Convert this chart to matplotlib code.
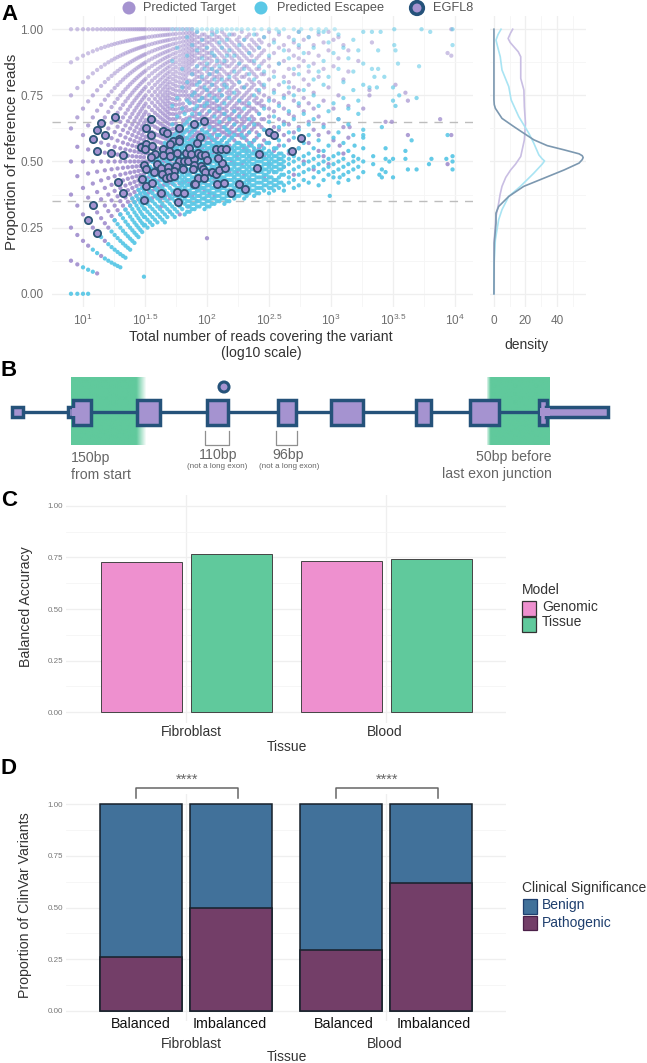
import matplotlib
matplotlib.use("Agg")
import matplotlib.pyplot as plt
import numpy as np
from matplotlib.patches import Rectangle, Circle

plt.rcParams['font.family'] = ['Liberation Sans', 'DejaVu Sans']
plt.rcParams['mathtext.default'] = 'regular'

# panel A, low read depth: reference read counts at each depth
target_fan_reads = [8, 9, 10, 11, 12, 13, 14, 15, 16, 17, 18, 19, 20, 21, 22, 23, 24, 25, 26, 27, 28, 29, 30, 31]
target_fan_refs = [
    [1, 2, 3, 4, 5, 6, 7, 8],
    [1, 2, 3, 4, 5, 6, 7, 8, 9],
    [2, 3, 4, 5, 6, 7, 8, 9, 10],
    [2, 3, 4, 5, 6, 7, 8, 9, 10, 11],
    [3, 4, 5, 6, 7, 8, 9, 10, 11, 12],
    [1, 3, 4, 5, 6, 7, 8, 9, 10, 11, 12, 13],
    [2, 4, 5, 6, 7, 8, 9, 10, 11, 12, 13, 14],
    [3, 4, 5, 6, 7, 8, 9, 10, 11, 12, 13, 14, 15],
    [4, 5, 6, 7, 8, 9, 10, 11, 12, 13, 14, 15, 16],
    [5, 6, 7, 8, 9, 10, 11, 12, 13, 14, 15, 16, 17],
    [5, 6, 7, 8, 9, 10, 11, 12, 13, 14, 15, 16, 17, 18],
    [6, 7, 8, 9, 10, 11, 12, 13, 14, 15, 16, 17, 18, 19],
    [6, 7, 8, 9, 10, 11, 12, 13, 14, 15, 16, 17, 18, 19, 20],
    [7, 8, 9, 10, 11, 12, 13, 14, 15, 16, 17, 18, 19, 20, 21],
    [7, 8, 9, 10, 11, 12, 13, 14, 15, 16, 17, 18, 19, 20, 21, 22],
    [8, 9, 10, 11, 12, 13, 14, 15, 16, 17, 18, 19, 20, 21, 22, 23],
    [8, 9, 10, 11, 12, 13, 14, 15, 16, 17, 18, 19, 20, 21, 22, 23, 24],
    [9, 10, 11, 12, 13, 14, 15, 16, 17, 18, 19, 20, 21, 22, 23, 24, 25],
    [9, 10, 11, 12, 13, 14, 15, 16, 17, 18, 19, 20, 21, 22, 23, 24, 25, 26],
    [10, 11, 12, 13, 14, 15, 16, 17, 18, 19, 20, 21, 22, 23, 24, 25, 26, 27],
    [10, 11, 12, 13, 14, 15, 16, 17, 18, 19, 20, 21, 22, 23, 24, 25, 26, 27, 28],
    [11, 12, 13, 14, 15, 16, 17, 18, 19, 20, 21, 22, 23, 24, 25, 26, 27, 28, 29],
    [11, 12, 13, 14, 15, 16, 17, 18, 19, 20, 21, 22, 23, 24, 25, 26, 27, 28, 29, 30],
    [12, 13, 14, 15, 16, 17, 18, 19, 20, 21, 22, 23, 24, 25, 26, 27, 28, 29, 30, 31],
]
target_mid_reads = [32, 34, 36, 38, 40, 42, 44, 46, 48, 50, 53, 56, 60, 64, 68, 72, 76]
target_mid_refs = [
    [12, 13, 14, 15, 16, 17, 18, 19, 20, 21, 22, 23, 24, 25, 26, 27, 28, 29, 30, 31, 32],
    [12, 13, 14, 15, 16, 17, 18, 19, 20, 21, 22, 23, 24, 25, 26, 27, 28, 29, 30, 31, 32, 33, 34],
    [13, 14, 15, 16, 17, 18, 19, 20, 21, 22, 23, 24, 25, 26, 27, 28, 29, 30, 31, 32, 33, 34, 35, 36],
    [14, 15, 16, 17, 18, 19, 20, 21, 22, 23, 24, 25, 26, 27, 28, 29, 30, 31, 32, 33, 34, 35, 36, 37, 38],
    [15, 16, 17, 18, 19, 20, 21, 22, 23, 24, 25, 26, 27, 28, 29, 30, 31, 32, 33, 34, 35, 36, 37, 38, 39, 40],
    [15, 17, 18, 19, 20, 21, 22, 23, 24, 25, 26, 27, 28, 29, 30, 31, 32, 33, 34, 35, 36, 37, 38, 39, 40, 41, 42],
    [16, 18, 19, 20, 21, 22, 23, 24, 25, 26, 27, 28, 29, 30, 31, 32, 33, 34, 35, 36, 37, 38, 39, 40, 41, 42, 43, 44],
    [17, 19, 20, 21, 22, 23, 24, 25, 26, 27, 28, 29, 30, 31, 32, 33, 34, 35, 36, 37, 38, 39, 40, 41, 42, 43, 44, 45, 46],
    [18, 20, 22, 23, 24, 25, 26, 27, 28, 29, 30, 31, 32, 33, 34, 35, 36, 37, 38, 39, 40, 41, 42, 43, 44, 45, 46, 47, 48],
    [18, 21, 23, 24, 25, 26, 27, 28, 29, 30, 31, 32, 33, 34, 35, 36, 37, 38, 39, 40, 41, 42, 43, 44, 45, 46, 47, 48, 49, 50],
    [20, 22, 24, 26, 27, 29, 30, 31, 32, 33, 34, 35, 36, 37, 38, 39, 40, 41, 42, 43, 44, 45, 46, 47, 48, 49, 50, 51, 52, 53],
    [21, 24, 26, 28, 30, 31, 32, 33, 34, 35, 36, 37, 38, 39, 40, 41, 42, 43, 44, 45, 46, 47, 48, 49, 50, 51, 52, 53, 54, 55, 56],
    [22, 25, 28, 30, 32, 34, 35, 36, 37, 38, 40, 41, 42, 43, 44, 45, 46, 47, 48, 49, 50, 51, 52, 53, 54, 55, 56, 57, 58, 59, 60],
    [24, 27, 30, 32, 34, 36, 38, 39, 41, 42, 44, 45, 46, 48, 49, 50, 51, 52, 53, 54, 55, 56, 57, 58, 59, 60, 61, 62, 63, 64],
    [26, 29, 32, 34, 36, 38, 40, 42, 44, 45, 47, 48, 50, 51, 52, 53, 54, 55, 56, 57, 58, 59, 60, 61, 62, 63, 64, 65, 66, 67, 68],
    [27, 30, 33, 36, 38, 40, 42, 44, 46, 48, 50, 52, 53, 54, 56, 57, 58, 60, 61, 62, 63, 64, 65, 66, 67, 68, 69, 70, 71, 72],
    [28, 32, 35, 38, 40, 43, 45, 47, 49, 51, 53, 55, 57, 58, 60, 61, 63, 64, 66, 67, 68, 69, 70, 71, 72, 73, 74, 75, 76],
]
target_cloud_logx = [1.90, 1.94, 1.98, 2.02, 2.06, 2.10, 2.14, 2.18, 2.22, 2.26, 2.30, 2.34, 2.38, 2.42, 2.46, 2.50,
                     2.54, 2.58, 2.62, 2.66, 2.70, 2.74, 2.78, 2.82, 2.86, 2.90, 2.94, 2.98, 3.02, 3.06, 3.10, 3.14]
target_cloud_pct = [
    [38, 41, 43, 46, 48, 51, 53, 56, 58, 60, 62, 65, 67, 69, 72, 74, 76, 79, 81, 83, 85, 88, 90, 92, 94, 96, 98],
    [37, 40, 44, 47, 49, 52, 55, 57, 59, 61, 64, 66, 68, 71, 73, 75, 78, 80, 82, 84, 87, 89, 91, 93, 95, 97],
    [36, 39, 42, 45, 48, 50, 54, 56, 58, 60, 63, 65, 67, 70, 72, 74, 77, 79, 81, 86, 88, 90, 92, 94, 96, 98],
    [38, 41, 46, 49, 52, 55, 57, 59, 62, 64, 66, 69, 71, 73, 76, 78, 80, 83, 85, 87, 89, 91, 95, 97],
    [37, 43, 47, 51, 54, 56, 58, 61, 63, 65, 68, 70, 72, 75, 77, 79, 82, 84, 86, 90, 93, 96, 98],
    [40, 45, 50, 53, 57, 60, 62, 64, 67, 69, 71, 74, 76, 81, 83, 85, 88, 91, 94, 97],
    [42, 48, 52, 55, 59, 61, 63, 66, 68, 70, 73, 78, 80, 84, 87, 89, 92, 95, 98],
    [39, 46, 51, 56, 60, 62, 65, 67, 72, 75, 77, 81, 83, 86, 90, 93, 96],
    [44, 49, 54, 58, 61, 64, 66, 69, 71, 74, 79, 82, 85, 88, 91, 94, 98],
    [41, 47, 53, 57, 60, 63, 68, 70, 73, 76, 80, 84, 87, 89, 92, 95, 97],
    [45, 50, 55, 59, 62, 65, 67, 72, 75, 78, 82, 86, 90, 93, 96],
    [43, 52, 56, 61, 64, 69, 71, 74, 77, 81, 85, 88, 91, 94, 98],
    [47, 54, 58, 63, 66, 70, 73, 79, 83, 87, 92, 95],
    [47, 55, 60, 64, 68, 72, 76, 80, 85, 90, 93, 96],
    [44, 52, 58, 62, 66, 71, 75, 78, 83, 88, 92, 97],
    [49, 57, 61, 67, 70, 74, 81, 86, 89, 94, 99],
    [46, 54, 59, 63, 69, 73, 77, 84, 91, 96],
    [51, 56, 62, 66, 72, 79, 87, 93, 98],
    [48, 60, 65, 70, 75, 82, 88, 94],
    [53, 58, 64, 68, 76, 80, 85, 92, 97],
    [45, 61, 67, 73, 78, 83, 90, 95],
    [55, 63, 71, 77, 86, 89, 93, 99],
    [50, 59, 69, 74, 81, 88, 96],
    [57, 65, 72, 79, 84, 91, 97],
    [47, 62, 70, 76, 87, 94],
    [54, 60, 67, 82, 90, 98],
    [52, 64, 73, 85, 95],
    [49, 61, 78, 92, 99],
    [58, 70, 86, 96],
    [66, 75, 89, 97],
    [53, 63, 81, 94],
    [71, 84, 92],
]
# second pass over the dense part of the purple cloud
target_fill_logx = [1.92, 1.96, 2.00, 2.04, 2.08, 2.12, 2.16, 2.20, 2.24, 2.28, 2.32, 2.36, 2.40, 2.44]
target_fill_pct = [
    [39, 42, 47, 50, 54, 57, 59, 61, 63, 66, 68, 70, 73, 75, 77, 80, 82, 84, 86, 89, 91, 93, 95, 97, 99],
    [40, 43, 49, 53, 55, 58, 60, 62, 65, 67, 69, 71, 74, 76, 78, 81, 83, 85, 87, 90, 92, 94, 96, 98],
    [41, 46, 51, 54, 57, 59, 61, 64, 66, 68, 71, 73, 75, 77, 80, 82, 84, 86, 89, 91, 93, 95, 97],
    [44, 48, 53, 56, 58, 60, 63, 65, 67, 70, 72, 74, 76, 79, 81, 83, 85, 88, 90, 92, 94, 96, 99],
    [46, 50, 55, 57, 59, 62, 64, 66, 69, 71, 73, 75, 78, 80, 82, 84, 87, 89, 92, 95, 97],
    [43, 52, 56, 58, 61, 63, 65, 68, 70, 72, 75, 77, 79, 82, 85, 87, 90, 93, 96, 99],
    [47, 53, 57, 60, 62, 64, 67, 69, 71, 74, 76, 79, 81, 83, 86, 88, 91, 94, 97],
    [50, 55, 59, 61, 63, 66, 68, 70, 73, 76, 78, 80, 84, 87, 89, 92, 95, 98],
    [46, 52, 57, 60, 62, 65, 67, 70, 72, 75, 77, 81, 83, 86, 90, 93, 96],
    [49, 56, 59, 61, 64, 66, 69, 72, 74, 78, 82, 85, 88, 91, 94, 99],
    [54, 58, 60, 63, 66, 68, 71, 73, 76, 79, 83, 86, 89, 92, 97],
    [51, 57, 62, 65, 67, 70, 75, 78, 80, 84, 88, 90, 93, 96],
    [48, 59, 61, 64, 69, 72, 74, 77, 82, 85, 89, 94, 98],
    [56, 63, 66, 71, 73, 79, 83, 87, 91, 95],
]
target_outer_logx = [3.94, 3.97, 3.97, 3.52, 3.60, 3.62, 3.88, 3.44, 3.49, 3.31, 3.31, 3.15, 3.97, 3.94, 3.14, 3.07, 3.62, 3.22, 3.26, 3.33]
target_outer_pct = [91, 90, 100, 79, 76, 73, 66, 65, 65, 77, 75, 63, 60, 49, 59, 56, 60, 88, 70, 95]
target_low_logx = [2.00, 1.63, 1.70, 1.78, 1.85, 1.92]
target_low_pct = [21, 33, 31, 30, 33, 35]

escapee_fan_reads = [8, 9, 10, 11, 12, 13, 14, 15, 16, 17, 18, 19, 20, 21, 22, 23, 24, 25, 26, 27, 28, 29, 30, 31]
escapee_fan_refs = [
    [0], [0], [0, 1], [0, 1], [1, 2], [2], [3], [2], [2, 3], [2, 3, 4], [2, 3, 4, 5], [2, 3, 4, 5],
    [2, 3, 4, 5, 6], [3, 4, 5, 6], [3, 4, 5, 6, 7], [4, 5, 6, 7], [4, 5, 6, 7, 8], [5, 6, 7, 8, 9],
    [5, 6, 7, 8, 9], [6, 7, 8, 9, 10], [6, 7, 8, 9, 10, 11], [7, 8, 9, 10, 11], [7, 8, 9, 10, 11, 12],
    [2, 8, 9, 10, 11, 12],
]
escapee_cloud_logx = [1.50, 1.54, 1.58, 1.62, 1.66, 1.70, 1.74, 1.78, 1.82, 1.86, 1.90, 1.94, 1.98, 2.02, 2.06, 2.10,
                      2.14, 2.18, 2.22, 2.26, 2.30, 2.34, 2.38, 2.42, 2.46, 2.50, 2.54, 2.58, 2.62, 2.66, 2.70, 2.74,
                      2.78, 2.82, 2.86, 2.90, 2.94, 2.98, 3.02, 3.06, 3.10, 3.14, 3.18, 3.22, 3.26]
escapee_cloud_pct = [
    [26, 29, 32, 35, 38, 41, 44, 47],
    [27, 30, 33, 36, 39, 42, 45, 48],
    [28, 31, 34, 37, 40, 43, 46, 49, 52],
    [29, 32, 35, 38, 41, 44, 47, 50, 53],
    [27, 30, 33, 36, 39, 42, 45, 48, 51, 54, 57],
    [31, 34, 37, 40, 43, 46, 49, 52, 55, 58],
    [29, 32, 35, 37, 39, 41, 43, 45, 47, 49, 51, 53, 55, 57, 60],
    [33, 36, 38, 40, 42, 44, 46, 48, 50, 52, 54, 56, 59, 62],
    [30, 34, 36, 38, 40, 42, 44, 46, 48, 50, 52, 54, 56, 58, 61, 64, 68],
    [31, 33, 35, 37, 39, 41, 43, 45, 47, 49, 51, 53, 55, 57, 60, 63, 66, 72],
    [32, 34, 36, 38, 40, 42, 44, 46, 48, 50, 52, 54, 56, 58, 62, 65, 70, 76],
    [33, 35, 37, 39, 41, 43, 45, 47, 49, 51, 53, 55, 57, 60, 64, 68, 73, 80],
    [32, 34, 36, 38, 40, 42, 44, 46, 48, 50, 52, 54, 56, 59, 61, 66, 71, 78, 85],
    [33, 35, 37, 39, 41, 43, 45, 47, 49, 51, 53, 55, 57, 60, 63, 69, 75, 83],
    [34, 36, 38, 40, 42, 44, 46, 48, 50, 52, 54, 56, 58, 62, 67, 74, 81, 90],
    [35, 37, 39, 41, 43, 45, 47, 49, 51, 53, 55, 57, 60, 65, 70, 77, 86, 95],
    [34, 36, 38, 40, 42, 44, 46, 48, 50, 52, 54, 56, 59, 63, 68, 72, 79, 88],
    [35, 37, 39, 41, 43, 45, 47, 49, 51, 53, 55, 58, 61, 66, 74, 82, 92, 98],
    [36, 38, 40, 42, 44, 46, 48, 50, 52, 54, 56, 60, 64, 69, 76, 84, 90],
    [37, 39, 41, 43, 45, 47, 49, 51, 53, 55, 57, 62, 67, 73, 80, 87, 94],
    [36, 38, 40, 42, 44, 46, 48, 50, 52, 54, 56, 59, 63, 70, 78, 85, 96],
    [38, 40, 42, 44, 46, 48, 50, 52, 54, 57, 61, 66, 72, 83, 91],
    [37, 39, 41, 43, 45, 47, 49, 51, 53, 55, 58, 64, 75, 81, 88, 98],
    [38, 40, 42, 44, 46, 48, 50, 52, 54, 56, 60, 68, 77, 86, 93],
    [39, 41, 43, 45, 47, 49, 51, 53, 55, 62, 70, 79, 84, 97],
    [38, 40, 42, 44, 46, 48, 50, 52, 54, 57, 65, 73, 90],
    [39, 41, 43, 46, 48, 50, 52, 55, 60, 67, 76, 82, 95],
    [40, 42, 44, 47, 49, 51, 53, 58, 63, 71, 87, 99],
    [39, 41, 45, 48, 50, 52, 56, 64, 74, 80, 92],
    [42, 44, 46, 49, 51, 54, 61, 69, 78, 89],
    [40, 43, 47, 50, 52, 59, 66, 75, 85, 96],
    [41, 45, 48, 51, 55, 62, 72, 83, 94, 99],
    [43, 46, 49, 52, 57, 68, 77, 91],
    [42, 47, 50, 53, 60, 64, 86, 97],
    [44, 48, 51, 55, 66, 75, 81, 93],
    [41, 46, 49, 52, 58, 71, 84, 99],
    [43, 47, 50, 54, 63, 79, 88, 99],
    [45, 48, 51, 56, 69, 82, 95],
    [44, 46, 49, 52, 59, 72, 91],
    [42, 47, 50, 53, 61, 66, 85, 98],
    [45, 48, 51, 57, 74, 80, 93],
    [43, 46, 49, 54, 64, 70, 89],
    [47, 50, 52, 60, 77, 84, 96],
    [44, 48, 51, 68, 73, 92],
    [46, 50, 55, 62, 79, 87, 99],
]
# second pass over the dense blue band
escapee_fill_logx = [1.52, 1.56, 1.60, 1.64, 1.68, 1.72, 1.76, 1.80, 1.84, 1.88, 1.92, 1.96, 2.00, 2.04, 2.08, 2.12, 2.16,
                     2.20, 2.24, 2.28, 2.32, 2.36, 2.40, 2.44, 2.48, 2.52, 2.56, 2.60]
escapee_fill_pct = [
    [25, 28, 31, 34, 37, 40, 43, 46],
    [26, 29, 32, 35, 38, 41, 44, 47, 50],
    [27, 30, 33, 36, 39, 42, 45, 48, 51],
    [28, 31, 34, 37, 40, 43, 46, 49, 52, 55],
    [29, 32, 35, 38, 41, 44, 47, 50, 53, 56],
    [30, 33, 36, 39, 42, 45, 48, 51, 54, 57, 59],
    [31, 34, 37, 40, 43, 46, 49, 52, 55, 58, 61],
    [32, 35, 37, 39, 41, 43, 45, 47, 49, 51, 53, 55, 57, 60, 63],
    [31, 33, 35, 37, 39, 41, 43, 45, 47, 49, 51, 53, 55, 57, 59, 62, 65],
    [32, 34, 36, 38, 40, 42, 44, 46, 48, 50, 52, 54, 56, 58, 61, 64],
    [33, 35, 37, 39, 41, 43, 45, 47, 49, 51, 53, 55, 57, 59, 63],
    [34, 36, 38, 40, 42, 44, 46, 48, 50, 52, 54, 56, 58, 62],
    [33, 35, 37, 39, 41, 43, 45, 47, 49, 51, 53, 55, 57, 61],
    [34, 36, 38, 40, 42, 44, 46, 48, 50, 52, 54, 56, 59],
    [35, 37, 39, 41, 43, 45, 47, 49, 51, 53, 55, 57, 60],
    [36, 38, 40, 42, 44, 46, 48, 50, 52, 54, 56, 58],
    [35, 37, 39, 41, 43, 45, 47, 49, 51, 53, 55, 57, 62],
    [37, 39, 41, 43, 45, 47, 49, 51, 53, 55, 59],
    [37, 39, 41, 43, 45, 47, 49, 51, 53, 55, 57],
    [38, 40, 42, 44, 46, 48, 50, 52, 54, 56, 60],
    [37, 39, 41, 43, 45, 47, 49, 51, 53, 55],
    [39, 41, 43, 45, 47, 49, 51, 53, 56],
    [38, 40, 42, 44, 46, 48, 50, 52, 54],
    [40, 42, 44, 46, 48, 50, 52, 54],
    [41, 43, 45, 47, 49, 51, 53, 57],
    [40, 42, 44, 47, 49, 51, 53],
    [41, 43, 46, 48, 50, 52, 55],
    [42, 45, 47, 49, 51, 53],
]
escapee_upper_logx = [1.72, 1.76, 1.80, 1.84, 1.88, 1.92, 1.96, 2.00, 2.04, 2.08, 2.12, 2.16]
escapee_upper_pct = [
    [64, 71, 88], [67, 74, 93], [70, 78, 85], [73, 80, 90, 97], [68, 75, 83, 94], [71, 79, 86, 92, 99],
    [74, 82, 89, 96], [72, 77, 87, 93], [79, 85, 91, 98], [73, 84, 88, 99], [75, 81, 93], [78, 90, 96],
]
escapee_top_logx = [1.72, 1.76, 1.80, 1.84, 1.88, 1.92, 1.96, 2.00, 2.04, 2.08, 2.12, 2.16, 2.20, 2.24, 2.28, 2.33, 2.38, 2.44,
                    2.50, 2.56, 2.62, 2.70, 2.76, 2.84, 2.90, 2.96, 3.03]
escapee_outer_logx = [3.73, 3.80, 3.98, 3.98, 3.54, 3.71, 3.33, 3.40, 3.51, 3.51, 3.52, 3.38, 3.33, 3.38, 3.35, 3.43, 3.50, 3.55,
                      3.69, 3.50, 3.52, 3.37, 3.31, 3.94, 3.65, 3.44, 3.60, 3.98, 3.93, 3.98, 3.81, 3.79, 3.98, 3.69, 3.62, 3.60,
                      3.50, 3.47, 3.44, 3.41, 3.44, 3.39, 3.50, 3.41, 3.07, 2.99, 3.41, 3.34, 3.34, 3.26, 3.26, 3.19]
escapee_outer_pct = [100, 99, 100, 94, 87, 86, 99, 99, 100, 94, 92, 92, 85, 85, 82, 82, 78, 75,
                     74, 73, 71, 78, 78, 60, 58, 55, 54, 52, 51, 50, 51, 49, 47, 47, 47, 51,
                     51, 50, 51, 47, 46, 45, 44, 44, 44, 37, 63, 52, 49, 60, 59, 56]

egfl8_logx = [1.256, 1.145, 1.113, 1.175, 1.078, 1.113, 1.229, 1.323, 1.280, 1.323, 1.078, 1.038, 1.113, 1.546, 1.506, 1.549,
              1.772, 1.893, 1.979, 1.648, 1.680, 1.946, 1.919, 1.777, 1.729, 1.772, 1.702, 1.465, 1.508, 1.559, 1.497, 1.648,
              1.696, 1.756, 1.648, 1.702, 1.583, 1.546, 1.495, 1.508, 1.594, 1.629, 1.683, 1.777, 1.815, 1.844, 1.893, 1.831,
              1.852, 1.868, 1.925, 1.952, 1.984, 1.997, 1.949, 1.895, 1.809, 1.750, 1.734, 1.683, 1.635, 1.573, 1.667, 1.702,
              1.734, 1.479, 1.506, 1.559, 1.629, 1.756, 1.817, 1.495, 1.764, 1.885, 1.971, 1.984, 2.038, 2.070, 2.097, 2.145,
              2.118, 2.092, 2.070, 2.113, 2.151, 2.419, 2.406, 2.686, 2.761, 2.503, 2.543, 1.930, 1.976, 1.895, 2.083, 2.137,
              2.258, 2.309, 2.194, 1.903]
egfl8_prop = [.669, .644, .618, .602, .586, .541, .532, .526, .423, .382, .335, .277, .230, .659, .626, .602,
              .628, .643, .654, .615, .606, .594, .570, .586, .576, .576, .565, .555, .565, .557, .548, .547,
              .541, .531, .524, .521, .528, .516, .485, .470, .489, .477, .480, .503, .502, .502, .508, .531,
              .552, .527, .531, .524, .524, .506, .484, .487, .470, .484, .465, .462, .453, .460, .436, .440,
              .445, .435, .407, .417, .382, .386, .380, .356, .346, .470, .470, .462, .460, .453, .468, .477,
              .493, .512, .546, .546, .548, .527, .475, .541, .587, .611, .601, .436, .436, .415, .414, .418,
              .414, .396, .380, .414]

# panel A side density curves
target_dens_y = [1.0, .985, .965, .95, .934, .915, .896, .858, .814, .77, .707, .645, .582, .519, .49, .468, .44, .406, .375, .343, .292, .204, .104, 0]
target_dens = [11.9, 10.5, 9, 10.3, 12.6, 15.4, 17, 17, 17, 19, 19.3, 20, 19.3, 17, 13.7, 10.6, 7.5, 5.1, 3.9, 3, 1.3, .2, 0, 0]
escapee_dens_y = [1.0, .98, .959, .93, .896, .846, .783, .733, .67, .607, .569, .525, .51, .502, .49, .456, .406, .368, .318, .28, .204, .104, 0]
escapee_dens = [4.5, 2.6, 1.3, 2.5, 4, 5.1, 9.4, 10.9, 15.7, 22.1, 25.3, 28.5, 30.6, 32.1, 30.6, 25.3, 16.8, 9.4, 5.1, 3, .9, 0, 0]
egfl8_dens_y = [1.0, .733, .715, .701, .663, .632, .607, .582, .56, .544, .529, .522, .515, .507, .494, .468, .437, .406, .368, .33, .305, .267, .192, 0]
egfl8_dens = [0, 0, .2, .9, 5.1, 12.6, 18.9, 25.3, 33.8, 44.5, 54, 56, 56.6, 56, 54, 44.5, 31.7, 18.9, 9.4, 3, 1.3, 1.3, .2, 0]

# panel B gene model, in schematic units
exon_start = [66, 135, 205, 276, 329, 414, 468]
exon_end = [93, 162, 230, 298, 365, 433, 501]

# panel C
tissues = ['Fibroblast', 'Blood']
acc_genomic = [.727, .734]
acc_tissue = [.766, .744]

# panel D, share of pathogenic variants
path_balanced = [.26, .295]
path_imbalanced = [.50, .62]

PURPLE = '#A593D0'
BLUE = '#5BC8E6'
NAVY = '#25527A'
GREEN = '#60C99C'
PINK = '#EE90CF'
BENIGN = '#41719A'
PATHO = '#733E68'
GREY = '#6E6E6E'

W, H = 647, 1063
fig = plt.figure(figsize=(W / 100, H / 100), dpi=100)


def px_axes(left, top, right, bottom):
    return fig.add_axes([left / W, 1 - bottom / H, (right - left) / W, (bottom - top) / H])


def clean(ax):
    for s in ax.spines.values():
        s.set_visible(False)
    ax.tick_params(which='both', length=0)
    ax.grid(True, which='major', color='#EFEFEF', lw=.9)
    ax.grid(True, which='minor', color='#F5F5F5', lw=.6)
    ax.set_axisbelow(True)


def dots(ax, logx, prop, color):
    prop = np.array(prop, dtype=float)
    rgba = np.tile(matplotlib.colors.to_rgba(color), (len(prop), 1))
    rgba[:, 3] = np.interp(prop, [.55, .85], [.95, .55])
    ax.scatter(10 ** np.array(logx, dtype=float), prop, s=9.5, c=rgba, linewidths=0, zorder=3)


def from_counts(reads, refs):
    xs, ys = [], []
    for n, row in zip(reads, refs):
        for k in row:
            xs.append(np.log10(n))
            ys.append(k / n)
    return xs, ys


def from_columns(logx, pct):
    xs, ys = [], []
    for x, row in zip(logx, pct):
        for v in row:
            xs.append(x)
            ys.append(v / 100)
    return xs, ys


# panel A scatter
ax_a = px_axes(52, 16, 473, 307)
clean(ax_a)
ax_a.set_xscale('log')
ax_a.set_xlim(10 ** .75, 10 ** 4.145)
ax_a.set_ylim(-.05, 1.05)
for x, y in [from_counts(target_fan_reads, target_fan_refs), from_counts(target_mid_reads, target_mid_refs),
             from_columns(target_cloud_logx, target_cloud_pct), from_columns(target_fill_logx, target_fill_pct)]:
    dots(ax_a, x, y, PURPLE)
dots(ax_a, target_outer_logx, np.array(target_outer_pct) / 100, PURPLE)
dots(ax_a, target_low_logx, np.array(target_low_pct) / 100, PURPLE)
for x, y in [from_counts(escapee_fan_reads, escapee_fan_refs), from_columns(escapee_cloud_logx, escapee_cloud_pct),
             from_columns(escapee_fill_logx, escapee_fill_pct), from_columns(escapee_upper_logx, escapee_upper_pct)]:
    dots(ax_a, x, y, BLUE)
dots(ax_a, escapee_outer_logx, np.array(escapee_outer_pct) / 100, BLUE)
dots(ax_a, escapee_top_logx, np.ones(len(escapee_top_logx)), '#8FDCF0')
ax_a.scatter(10 ** np.array(egfl8_logx), egfl8_prop, s=27, facecolor=PURPLE, edgecolor='#2B5576', linewidths=1.3, zorder=4)
for y in [.65, .35]:
    ax_a.axhline(y, color='#BDBDBD', lw=1, dashes=(6, 5), zorder=2)
x_major = [1, 1.5, 2, 2.5, 3, 3.5, 4]
ax_a.set_xticks([10 ** v for v in x_major])
ax_a.set_xticklabels(['$10^{%g}$' % v for v in x_major], color=GREY, fontsize=8.5)
ax_a.set_xticks([10 ** v for v in [1.25, 1.75, 2.25, 2.75, 3.25, 3.75]], minor=True)
ax_a.set_xticklabels([], minor=True)
ax_a.set_yticks([0, .25, .5, .75, 1])
ax_a.set_yticklabels(['0.00', '0.25', '0.50', '0.75', '1.00'], color=GREY, fontsize=8.5)
ax_a.set_yticks([.125, .375, .625, .875], minor=True)
ax_a.tick_params(axis='x', pad=4)
ax_a.tick_params(axis='y', pad=6)

# density side panel
ax_d = px_axes(490, 16, 586, 307)
clean(ax_d)
ax_d.set_xlim(-2.5, 58.4)
ax_d.set_ylim(-.05, 1.05)
ax_d.plot(target_dens, target_dens_y, color='#C9BEE3', lw=1.2)
ax_d.plot(escapee_dens, escapee_dens_y, color='#A9E4F3', lw=1.2)
ax_d.plot(egfl8_dens, egfl8_dens_y, color='#7C98B0', lw=1.2)
ax_d.set_xticks([0, 20, 40])
ax_d.set_xticklabels(['0', '20', '40'], color=GREY, fontsize=8.5)
ax_d.set_xticks([10, 30, 50], minor=True)
ax_d.set_yticks([0, .25, .5, .75, 1])
ax_d.set_yticklabels([])
ax_d.set_yticks([.125, .375, .625, .875], minor=True)
ax_d.tick_params(axis='x', pad=6)

# panel C bars
ax_c = px_axes(66, 495.4, 506, 722.6)
clean(ax_c)
pos = np.array([1, 2])
ax_c.bar(pos - .225, acc_genomic, .405, color=PINK, edgecolor='#444444', lw=.7, zorder=3)
ax_c.bar(pos + .225, acc_tissue, .405, color=GREEN, edgecolor='#444444', lw=.7, zorder=3)
ax_c.set_xlim(.4, 2.6)
ax_c.set_ylim(-.05, 1.05)

# panel D bars
ax_e = px_axes(66, 794, 506, 1021)
clean(ax_e)
ax_e.bar(pos - .225, [1, 1], .41, color=BENIGN, edgecolor='#16202A', lw=1.1, zorder=3)
ax_e.bar(pos + .225, [1, 1], .41, color=BENIGN, edgecolor='#16202A', lw=1.1, zorder=3)
ax_e.bar(pos - .225, path_balanced, .41, color=PATHO, edgecolor='#16202A', lw=1.1, zorder=3)
ax_e.bar(pos + .225, path_imbalanced, .41, color=PATHO, edgecolor='#16202A', lw=1.1, zorder=3)
ax_e.set_xlim(.4, 2.6)
ax_e.set_ylim(-.05, 1.05)

for ax in (ax_c, ax_e):
    ax.set_xticks(pos)
    ax.set_xticklabels([])
    ax.set_yticks([0, .25, .5, .75, 1])
    ax.set_yticklabels(['0.00', '0.25', '0.50', '0.75', '1.00'], color='#777777', fontsize=5.8)
    ax.set_yticks([.125, .375, .625, .875], minor=True)
    ax.tick_params(axis='y', pad=2)

# overlay in figure pixels for legends, labels and the gene model
top = fig.add_axes([0, 0, 1, 1], zorder=10)
top.set_xlim(0, W)
top.set_ylim(H, 0)
top.axis('off')


def txt(x, y, s, size=10, color='#333333', ha='center', va='center', **kw):
    top.text(x, y, s, fontsize=size, color=color, ha=ha, va=va, **kw)


for x, y, s in [(1, 15, 'A'), (1, 370, 'B'), (1, 500, 'C'), (1, 769, 'D')]:
    txt(x, y, s, size=16, color='black', ha='left', fontweight='bold')

# top legend
top.add_patch(Circle((129, 8), 6.5, color=PURPLE, lw=0))
top.add_patch(Circle((261, 8), 6.5, color=BLUE, lw=0))
top.add_patch(Circle((417, 8), 6.3, facecolor=PURPLE, edgecolor=NAVY, lw=2.6))
txt(143, 8, 'Predicted Target', size=9.2, color='#555555', ha='left')
txt(277, 8, 'Predicted Escapee', size=9.2, color='#555555', ha='left')
txt(433, 8, 'EGFL8', size=9.2, color='#555555', ha='left')

txt(12, 152, 'Proportion of reference reads', size=10.9, rotation=90)
txt(261, 337, 'Total number of reads covering the variant', size=10.1)
txt(261, 353, '(log10 scale)', size=10.1)
txt(526, 345, 'density', size=10)


# panel B
def exon(x0, x1, y0, y1):
    top.add_patch(Rectangle((x0 + 1.7, y0 + 1.7), x1 - x0 - 3.4, y1 - y0 - 3.4, facecolor=PURPLE, edgecolor=NAVY, lw=2.5, zorder=4))


for x0, x1 in [(71, 147), (487, 550)]:
    fade = np.ones((1, 60, 4))
    fade[0, :, :3] = matplotlib.colors.to_rgb(GREEN)
    if x0 == 71:
        fade[0, :, 3] = np.interp(np.linspace(x0, x1, 60), [x1 - 10, x1], [1, 0])
    else:
        fade[0, :, 3] = np.interp(np.linspace(x0, x1, 60), [x0, x0 + 3], [.3, 1])
    top.imshow(fade, extent=(x0, x1, 445, 377), aspect='auto', zorder=1, interpolation='bilinear')
top.set_xlim(0, W)
top.set_ylim(H, 0)
top.plot([20, 560], [412, 412], color=NAVY, lw=2.4, zorder=3, solid_capstyle='butt')
exon(10, 25, 405, 419)
exon(66, 78, 405, 419)
for x0, x1 in zip(exon_start, exon_end):
    if x0 == 66:
        x0 = 71
    exon(x0, x1, 398, 427)
exon(537, 549, 398, 427)
exon(544, 610, 405, 419)
top.add_patch(Rectangle((540, 408), 10, 8, facecolor=PURPLE, edgecolor='none', zorder=5))
top.add_patch(Rectangle((72, 408), 6, 8, facecolor=PURPLE, edgecolor='none', zorder=5))
top.add_patch(Circle((224, 387), 5, facecolor=PURPLE, edgecolor=NAVY, lw=2.2, zorder=4))
for x0, x1 in [(205, 229), (276, 297)]:
    top.plot([x0, x0, x1, x1], [431, 445, 445, 431], color='#8F8F8F', lw=.9)
txt(71, 458, '150bp', size=10.2, color='#666666', ha='left')
txt(71, 475, 'from start', size=10.2, color='#666666', ha='left')
txt(218, 455, '110bp', size=10.2, color='#666666')
txt(288, 455, '96bp', size=10.2, color='#666666')
txt(217, 467, '(not a long exon)', size=5.8, color='#666666')
txt(289, 467, '(not a long exon)', size=5.8, color='#666666')
txt(552, 457, '50bp before', size=10.2, color='#666666', ha='right')
txt(552, 474, 'last exon junction', size=10.2, color='#666666', ha='right')

# panel C text
txt(26, 607, 'Balanced Accuracy', size=10.2, rotation=90)
txt(191, 732, tissues[0], size=10)
txt(385, 732, tissues[1], size=10)
txt(287, 747, 'Tissue', size=10)
txt(521.5, 590, 'Model', size=10, ha='left')
top.add_patch(Rectangle((522, 601), 14, 15, facecolor=PINK, edgecolor='#333333', lw=.9))
top.add_patch(Rectangle((522, 617), 14, 15, facecolor=GREEN, edgecolor='#333333', lw=.9))
txt(542, 607, 'Genomic', size=10, ha='left')
txt(542, 622, 'Tissue', size=10, ha='left')

# panel D text
txt(25, 905, 'Proportion of ClinVar Variants', size=10.2, rotation=90)
for x0, x1 in [(136, 238), (336, 438)]:
    top.plot([x0, x0, x1, x1], [798, 788, 788, 798], color='#666666', lw=1.1)
    txt((x0 + x1) / 2, 780, '****', size=10.5, color='#666666')
for x, s in [(140.5, 'Balanced'), (230, 'Imbalanced'), (344, 'Balanced'), (434, 'Imbalanced')]:
    txt(x, 1024, s, size=10.3, color='#111111')
txt(191, 1044, tissues[0], size=10)
txt(385, 1044, tissues[1], size=10)
txt(287, 1057, 'Tissue', size=10)
txt(521.5, 888, 'Clinical Significance', size=10, ha='left')
top.add_patch(Rectangle((523, 899), 14, 15, facecolor=BENIGN, edgecolor='#1F3F6E', lw=.9))
top.add_patch(Rectangle((523, 916), 14, 14, facecolor=PATHO, edgecolor='#4A1F48', lw=.9))
txt(542, 905, 'Benign', size=10, color='#1F3F6E', ha='left')
txt(542, 923, 'Pathogenic', size=10, color='#1F3F6E', ha='left')

fig.savefig('out.png', dpi=100)
